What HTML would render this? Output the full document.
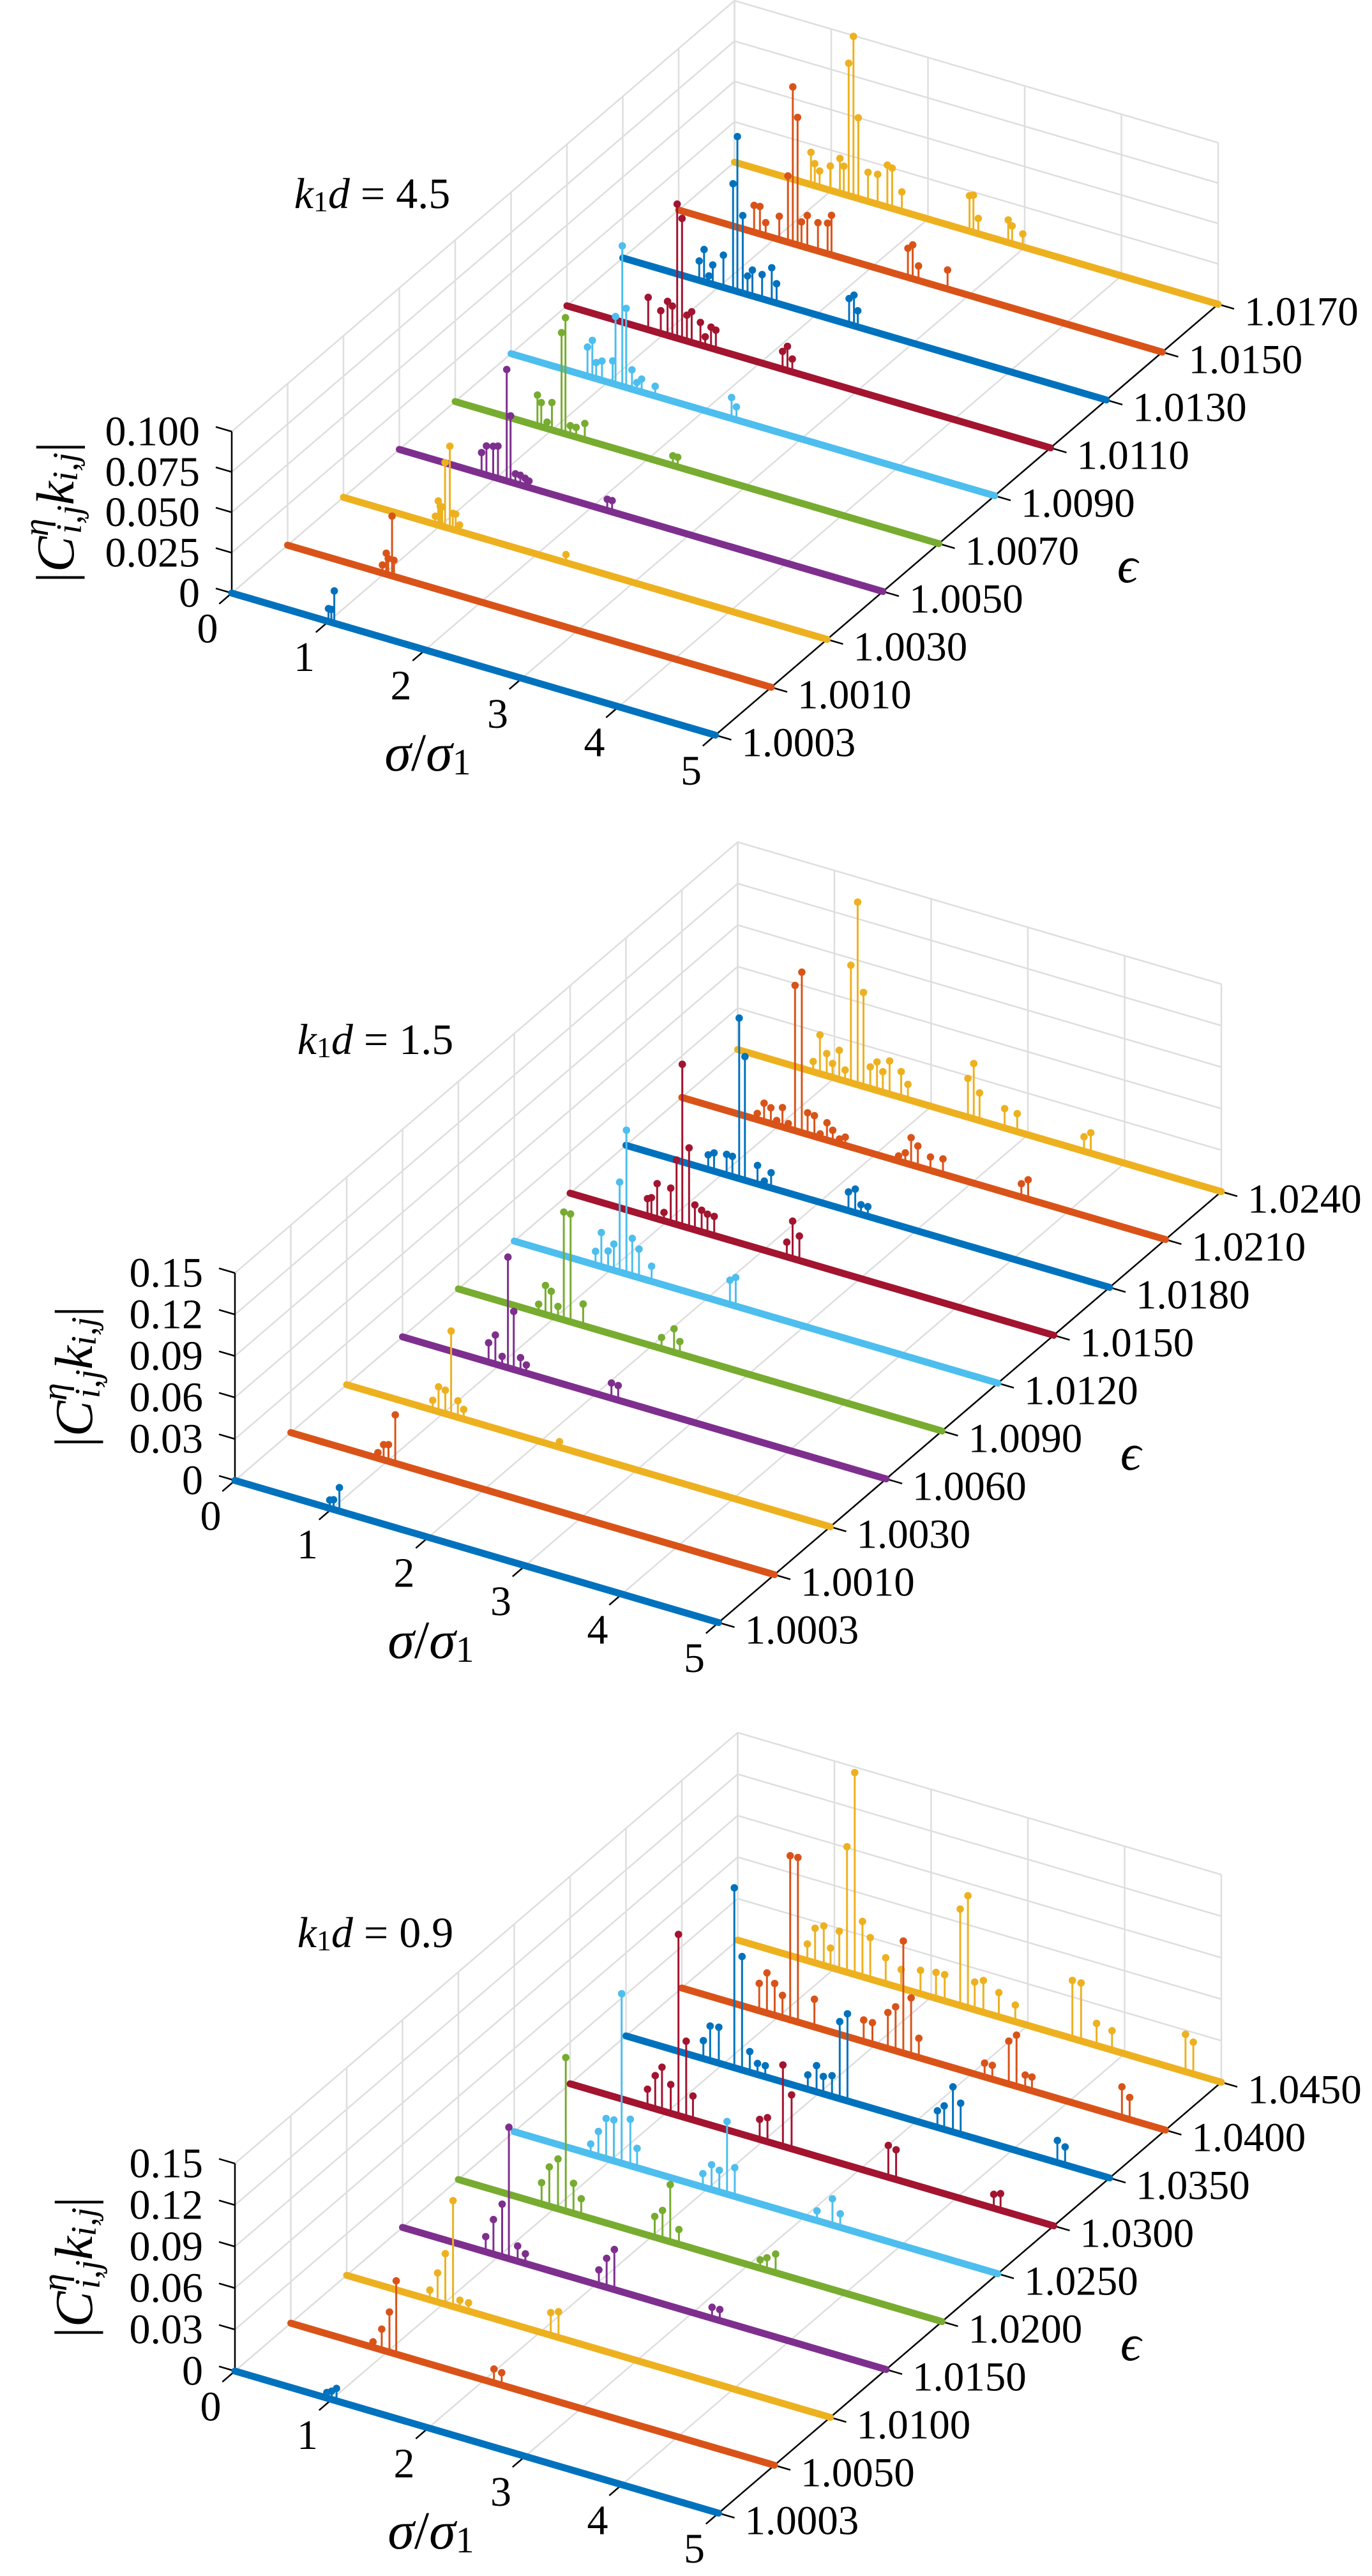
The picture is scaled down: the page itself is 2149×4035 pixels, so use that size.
<!DOCTYPE html>
<html><head><meta charset="utf-8"><title>Stem spectra</title>
<style>html,body{margin:0;padding:0;background:#fff}svg{display:block}text{font-family:"Liberation Serif","DejaVu Serif",serif;fill:#000}</style>
</head><body>
<svg id="chart" xmlns="http://www.w3.org/2000/svg" width="2149" height="4035" viewBox="0 0 2149 4035"></svg>
<script>
// ---------- data: panel 1 (k1d = 4.5) ----------
const p1ZTicks = [0, 0.025, 0.05, 0.075, 0.1];
const p1ZLabels = ["0", "0.025", "0.050", "0.075", "0.100"];
const p1EpsLabels = ["1.0003","1.0010","1.0030","1.0050","1.0070","1.0090","1.0110","1.0130","1.0150","1.0170"];
const p1Peaks = [
 [[1.0,0.008],[1.03,0.008],[1.06,0.020]],
 [[0.98,0.005],[1.02,0.013],[1.04,0.010],[1.08,0.037],[1.1,0.010]],
 [[0.95,0.005],[0.98,0.015],[1.0,0.012],[1.02,0.012],[1.05,0.040],[1.1,0.051],[1.13,0.010],[1.16,0.010],[1.2,0.004],[2.3,0.005]],
 [[0.85,0.013],[0.9,0.018],[0.97,0.019],[1.02,0.020],[1.11,0.069],[1.15,0.041],[1.2,0.006],[1.25,0.006],[1.3,0.005],[1.34,0.004],[2.15,0.007],[2.2,0.007]],
 [[0.85,0.019],[0.89,0.015],[0.95,0.004],[1.0,0.017],[1.1,0.062],[1.14,0.072],[1.19,0.006],[1.25,0.006],[1.34,0.010],[2.25,0.006],[2.3,0.006]],
 [[0.79,0.018],[0.84,0.023],[0.88,0.010],[0.94,0.012],[1.05,0.014],[1.08,0.042],[1.15,0.087],[1.19,0.049],[1.25,0.012],[1.3,0.005],[1.35,0.008],[1.49,0.006],[2.28,0.013],[2.33,0.008]],
 [[0.84,0.020],[0.97,0.014],[1.04,0.021],[1.09,0.019],[1.14,0.083],[1.19,0.075],[1.24,0.016],[1.29,0.019],[1.38,0.014],[1.43,0.006],[1.49,0.013],[1.54,0.012],[2.23,0.011],[2.28,0.015],[2.33,0.008]],
 [[0.79,0.012],[0.84,0.020],[0.89,0.0045],[0.93,0.012],[1.04,0.020],[1.14,0.066],[1.185,0.096],[1.24,0.048],[1.29,0.0115],[1.34,0.016],[1.44,0.015],[1.54,0.021],[1.59,0.012],[2.34,0.016],[2.39,0.019],[2.43,0.010]],
 [[0.78,0.0166],[0.84,0.017],[0.9,0.008],[1.04,0.0144],[1.13,0.041],[1.18,0.097],[1.23,0.079],[1.27,0.015],[1.33,0.020],[1.44,0.0175],[1.54,0.019],[1.58,0.0245],[2.37,0.018],[2.42,0.021],[2.48,0.009],[2.78,0.0118]],
 [[0.79,0.020],[0.83,0.0137],[0.88,0.010],[0.99,0.015],[1.09,0.0215],[1.13,0.0174],[1.18,0.082],[1.23,0.0995],[1.28,0.050],[1.38,0.018],[1.48,0.0185],[1.58,0.026],[1.63,0.025],[1.73,0.012],[2.43,0.022],[2.47,0.023],[2.52,0.0095],[2.83,0.014],[2.87,0.011],[2.98,0.008]]
];
// ---------- data: panel 2 (k1d = 1.5) ----------
const p2ZTicks = [0, 0.03, 0.06, 0.09, 0.12, 0.15];
const p2ZLabels = ["0", "0.03", "0.06", "0.09", "0.12", "0.15"];
const p2EpsLabels = ["1.0003","1.0010","1.0030","1.0060","1.0090","1.0120","1.0150","1.0180","1.0210","1.0240"];
const p2Peaks = [
 [[0.98,0.006],[1.02,0.007],[1.08,0.017]],
 [[0.9,0.004],[0.96,0.011],[1.01,0.012],[1.08,0.035]],
 [[0.89,0.007],[0.95,0.018],[1.02,0.017],[1.08,0.061],[1.15,0.012],[1.21,0.007],[2.2,0.004]],
 [[0.89,0.014],[0.96,0.021],[1.03,0.007],[1.09,0.080],[1.15,0.042],[1.22,0.010],[1.28,0.006],[2.16,0.011],[2.23,0.0106]],
 [[0.83,0.006],[0.9,0.021],[0.96,0.018],[1.03,0.0085],[1.09,0.078],[1.16,0.078],[1.29,0.0156],[2.1,0.008],[2.23,0.017],[2.29,0.009]],
 [[0.84,0.0098],[0.9,0.0246],[0.97,0.0127],[1.03,0.019],[1.09,0.065],[1.16,0.104],[1.22,0.027],[1.29,0.0207],[1.42,0.011],[2.23,0.0175],[2.29,0.0207]],
 [[0.8,0.0125],[0.84,0.014],[0.9,0.0254],[0.97,0.006],[1.04,0.025],[1.1,0.0466],[1.16,0.117],[1.23,0.058],[1.29,0.018],[1.36,0.0156],[1.42,0.014],[1.49,0.0138],[2.24,0.0106],[2.3,0.027],[2.37,0.0177]],
 [[0.85,0.0106],[0.91,0.0132],[1.04,0.0148],[1.1,0.0146],[1.17,0.116],[1.23,0.0894],[1.36,0.0134],[1.43,0.0035],[1.5,0.011],[2.3,0.0135],[2.37,0.017],[2.43,0.007],[2.5,0.007]],
 [[0.78,0.0045],[0.85,0.0133],[0.92,0.0114],[0.98,0.0034],[1.04,0.014],[1.1,0.0037],[1.17,0.105],[1.24,0.116],[1.3,0.0156],[1.37,0.015],[1.43,0.003],[1.5,0.0125],[1.56,0.0083],[1.63,0.0035],[1.69,0.006],[2.24,0.0037],[2.31,0.0074],[2.37,0.0196],[2.44,0.015],[2.57,0.0097],[2.7,0.011],[3.51,0.0097],[3.58,0.014]],
 [[0.78,0.0074],[0.85,0.028],[0.92,0.016],[0.98,0.010],[1.05,0.021],[1.11,0.008],[1.17,0.085],[1.24,0.132],[1.3,0.068],[1.37,0.0156],[1.44,0.0206],[1.5,0.0148],[1.57,0.024],[1.69,0.0188],[1.76,0.011],[2.38,0.028],[2.44,0.040],[2.5,0.020],[2.76,0.014],[2.89,0.013],[3.58,0.0105],[3.65,0.0148]]
];
// ---------- data: panel 3 (k1d = 0.9) ----------
const p3ZTicks = [0, 0.03, 0.06, 0.09, 0.12, 0.15];
const p3ZLabels = ["0", "0.03", "0.06", "0.09", "0.12", "0.15"];
const p3EpsLabels = ["1.0003","1.0050","1.0100","1.0150","1.0200","1.0250","1.0300","1.0350","1.0400","1.0450"];
const p3Peaks = [
 [[0.95,0.004],[1.0,0.006],[1.05,0.009]],
 [[0.85,0.004],[0.94,0.015],[1.02,0.029],[1.09,0.053],[2.1,0.010],[2.18,0.009]],
 [[0.86,0.007],[0.94,0.021],[1.02,0.0366],[1.1,0.0766],[1.17,0.006],[1.26,0.006],[2.11,0.0164],[2.19,0.0186]],
 [[0.86,0.011],[0.94,0.025],[1.03,0.038],[1.1,0.095],[1.19,0.011],[1.27,0.007],[2.03,0.011],[2.11,0.021],[2.19,0.029],[3.2,0.008],[3.28,0.008]],
 [[0.86,0.0154],[0.94,0.0284],[1.03,0.036],[1.11,0.111],[1.19,0.0217],[1.27,0.0122],[2.03,0.015],[2.11,0.021],[2.19,0.0413],[2.28,0.0107],[3.12,0.006],[3.19,0.009],[3.28,0.0135]],
 [[0.79,0.0073],[0.87,0.018],[0.95,0.029],[1.03,0.0296],[1.11,0.1225],[1.2,0.0336],[1.27,0.014],[1.95,0.0097],[2.04,0.018],[2.12,0.0156],[2.2,0.0525],[2.28,0.0208],[3.13,0.007],[3.29,0.019],[3.37,0.0098]],
 [[0.8,0.0125],[0.88,0.024],[0.95,0.0315],[1.04,0.0208],[1.12,0.131],[1.2,0.0554],[1.27,0.0172],[1.96,0.0145],[2.04,0.0174],[2.2,0.0588],[2.29,0.039],[3.29,0.023],[3.37,0.0215],[4.38,0.010],[4.45,0.012]],
 [[0.8,0.013],[0.87,0.025],[0.96,0.026],[1.12,0.130],[1.2,0.082],[1.28,0.015],[1.36,0.008],[1.44,0.008],[1.88,0.0104],[1.97,0.019],[2.04,0.0126],[2.13,0.015],[2.21,0.0557],[2.29,0.063],[3.22,0.012],[3.29,0.017],[3.38,0.0326],[3.46,0.0224],[4.46,0.016],[4.54,0.013]],
 [[0.8,0.0198],[0.88,0.029],[0.96,0.023],[1.04,0.016],[1.12,0.1186],[1.2,0.119],[1.37,0.020],[1.88,0.0155],[1.97,0.0154],[2.13,0.026],[2.21,0.0318],[2.29,0.081],[2.37,0.0415],[2.45,0.014],[3.13,0.010],[3.21,0.010],[3.38,0.031],[3.46,0.037],[3.55,0.010],[3.62,0.010],[4.55,0.022],[4.63,0.016]],
 [[0.72,0.012],[0.8,0.025],[0.89,0.0285],[0.96,0.014],[1.05,0.028],[1.13,0.0907],[1.21,0.146],[1.29,0.040],[1.37,0.030],[1.53,0.0187],[1.69,0.0135],[1.89,0.017],[2.05,0.0188],[2.14,0.019],[2.3,0.0697],[2.38,0.081],[2.45,0.020],[2.54,0.023],[2.7,0.0175],[2.87,0.012],[3.46,0.042],[3.55,0.042],[3.71,0.016],[3.87,0.014],[4.63,0.027],[4.71,0.023]]
];
const sigmaTicks = [0, 1, 2, 3, 4, 5];
const kdValues = ["4.5", "1.5", "0.9"];

// ---------- rendering ----------
const NS = 'http://www.w3.org/2000/svg';
const svg = document.getElementById('chart');
const colors = ['#0072BD','#D95319','#EDB120','#7E2F8E','#77AC30','#4DBEEE','#A2142F','#0072BD','#D95319','#EDB120'];
const GRID = '#dedede';

function add(tag, parent, name) {
  const el = document.createElementNS(NS, tag);
  
  
  parent.appendChild(el);
  return el;
}
function line(parent, name, a, b, stroke, w, cap) {
  const l = add('line', parent, name);
  l.setAttribute('x1', a[0].toFixed(1)); l.setAttribute('y1', a[1].toFixed(1));
  l.setAttribute('x2', b[0].toFixed(1)); l.setAttribute('y2', b[1].toFixed(1));
  l.setAttribute('stroke', stroke); l.setAttribute('stroke-width', w);
  if (cap) l.setAttribute('stroke-linecap', cap);
  return l;
}

const panels = [
  {ox:363, oy:929,  zs:2530, zmax:0.1,  zt:p1ZTicks, zl:p1ZLabels, eps:p1EpsLabels, peaks:p1Peaks, kd:kdValues[0], ztDx:-276, kdDy:-626},
  {ox:368, oy:2319, zs:2167, zmax:0.15, zt:p2ZTicks, zl:p2ZLabels, eps:p2EpsLabels, peaks:p2Peaks, kd:kdValues[1], ztDx:-252, kdDy:-691},
  {ox:368, oy:3714, zs:2167, zmax:0.15, zt:p3ZTicks, zl:p3ZLabels, eps:p3EpsLabels, peaks:p3Peaks, kd:kdValues[2], ztDx:-252, kdDy:-687}
];
const SX = [151.5, 44.5], RX = [87.5, -75];
const NROW = 10, SMAX = 5;

panels.forEach((p, pi) => {
  const g = add('g', svg, 'panel-' + (pi + 1));
  const P = (s, r, z) => [p.ox + s * SX[0] + r * RX[0], p.oy + s * SX[1] + r * RX[1] - z * p.zs];
  const R9 = NROW - 1;
  // grid
  const grid = add('g', g, 'grid');
  p.zt.forEach(z => {
    line(grid, 'left-wall-gridline', P(0, 0, z), P(0, R9, z), GRID, 2.5);
    line(grid, 'back-wall-gridline', P(0, R9, z), P(SMAX, R9, z), GRID, 2.5);
  });
  for (let r = 0; r < NROW; r++) {
    line(grid, 'left-wall-vertical-gridline', P(0, r, 0), P(0, r, p.zmax), GRID, 2.5);
    line(grid, 'floor-row-gridline', P(0, r, 0), P(SMAX, r, 0), GRID, 2.5);
  }
  sigmaTicks.forEach(s => {
    line(grid, 'floor-gridline', P(s, 0, 0), P(s, R9, 0), GRID, 2.5);
    line(grid, 'back-wall-vertical-gridline', P(s, R9, 0), P(s, R9, p.zmax), GRID, 2.5);
  });
  // axes
  const ax = add('g', g, 'axes');
  line(ax, 'z-axis-line', P(0, 0, 0), P(0, 0, p.zmax), '#000', 2.5);
  line(ax, 'epsilon-axis-line', P(SMAX, 0, 0), P(SMAX, R9, 0), '#000', 2.5);
  line(ax, 'sigma-axis-line', P(0, 0, 0), P(SMAX, 0, 0), '#000', 2.5);
  p.zt.forEach((z, i) => {
    const a = P(0, 0, z);
    line(ax, 'z-tick', a, [a[0] - 25, a[1] - 7.3], '#000', 2.5);
    const t = add('text', ax, 'z-tick-label');
    t.setAttribute('x', a[0] - 50); t.setAttribute('y', a[1]);
    t.setAttribute('text-anchor', 'end'); t.setAttribute('dominant-baseline', 'central');
    t.setAttribute('font-size', '66');
    t.textContent = p.zl[i];
  });
  sigmaTicks.forEach(s => {
    const a = P(s, 0, 0);
    line(ax, 'sigma-tick', a, [a[0] - 19.7, a[1] + 16.9], '#000', 2.5);
    const t = add('text', ax, 'sigma-tick-label');
    t.setAttribute('x', a[0] - 38); t.setAttribute('y', a[1] + 56);
    t.setAttribute('text-anchor', 'middle'); t.setAttribute('dominant-baseline', 'central');
    t.setAttribute('font-size', '66');
    t.textContent = String(s);
  });
  p.eps.forEach((lab, r) => {
    const a = P(SMAX, r, 0);
    line(ax, 'epsilon-tick', a, [a[0] + 25, a[1] + 7.3], '#000', 2.5);
    const t = add('text', ax, 'epsilon-tick-label');
    t.setAttribute('x', a[0] + 41); t.setAttribute('y', a[1] + 12);
    t.setAttribute('dominant-baseline', 'central');
    t.setAttribute('font-size', '65');
    t.textContent = lab;
  });
  // series, back to front
  for (let r = R9; r >= 0; r--) {
    const sg = add('g', g, 'series-epsilon-' + p.eps[r]);
    const c = colors[r];
    line(sg, 'baseline-points', P(0, r, 0), P(SMAX, r, 0), c, 11, 'round');
    p.peaks[r].forEach(pk => {
      const b = P(pk[0], r, 0), top = P(pk[0], r, pk[1]);
      line(sg, 'stem', b, top, c, 3);
      const ci = add('circle', sg, 'stem-marker');
      ci.setAttribute('cx', top[0].toFixed(1)); ci.setAttribute('cy', top[1].toFixed(1));
      ci.setAttribute('r', '5.8'); ci.setAttribute('fill', c);
    });
  }
  // titles
  const o = P(0, 0, 0);
  const xt = add('text', g, 'x-axis-title');
  xt.setAttribute('x', o[0] + 307); xt.setAttribute('y', o[1] + 250);
  xt.setAttribute('text-anchor', 'middle'); xt.setAttribute('dominant-baseline', 'central');
  xt.setAttribute('font-size', '84');
  xt.innerHTML = '<tspan font-style="italic">σ</tspan>/<tspan font-style="italic">σ</tspan><tspan font-size="58" dy="14">1</tspan>';
  const et = add('text', g, 'epsilon-axis-title');
  et.setAttribute('x', o[0] + 1403); et.setAttribute('y', o[1] - 43);
  et.setAttribute('text-anchor', 'middle'); et.setAttribute('dominant-baseline', 'central');
  et.setAttribute('font-size', '80'); et.setAttribute('font-style', 'italic');
  et.textContent = 'ϵ';
  const zc = [o[0] + p.ztDx, o[1] - p.zmax * p.zs / 2];
  const zt = add('text', g, 'z-axis-title');
  zt.setAttribute('x', zc[0]); zt.setAttribute('y', zc[1]);
  zt.setAttribute('text-anchor', 'middle'); zt.setAttribute('dominant-baseline', 'central');
  zt.setAttribute('font-size', '84');
  zt.setAttribute('transform', 'rotate(-90 ' + zc[0] + ' ' + zc[1] + ')');
  zt.innerHTML = '|<tspan font-style="italic">C</tspan><tspan font-size="56" font-style="italic" dy="-30">η</tspan><tspan font-size="56" font-style="italic" dx="-24" dy="52">i,j</tspan><tspan font-style="italic" dy="-22">k</tspan><tspan font-size="56" font-style="italic" dy="16">i,j</tspan><tspan dy="-16">|</tspan>';
  const kt = add('text', g, 'k1d-annotation');
  kt.setAttribute('x', o[0] + 220); kt.setAttribute('y', o[1] + p.kdDy);
  kt.setAttribute('text-anchor', 'middle'); kt.setAttribute('dominant-baseline', 'central');
  kt.setAttribute('font-size', '68');
  kt.innerHTML = '<tspan font-style="italic">k</tspan><tspan font-size="46" dy="12">1</tspan><tspan font-style="italic" dy="-12">d</tspan> = ' + p.kd;
});
</script>
</body></html>
